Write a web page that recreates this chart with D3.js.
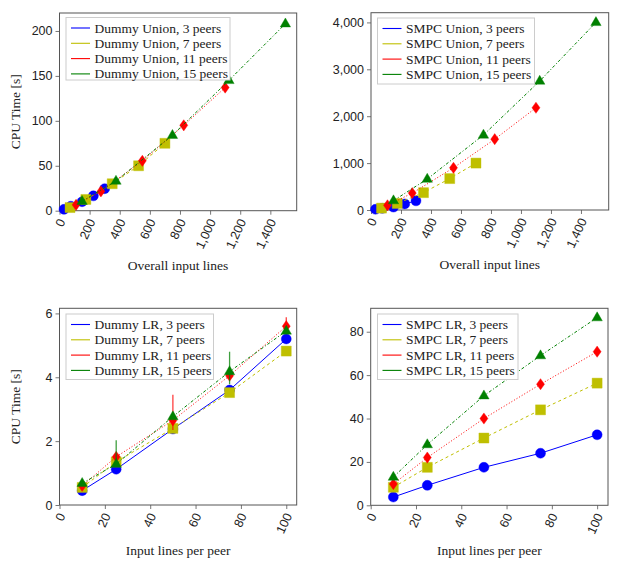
<!DOCTYPE html>
<html><head><meta charset="utf-8">
<script src="https://cdn.jsdelivr.net/npm/d3@7"></script>
<style>
html,body{margin:0;padding:0;background:#fff;}
svg{display:block;font-family:"Liberation Serif","Times New Roman",serif;}
</style></head>
<body><svg id="c" width="626" height="568"></svg>
<script>
// ---------- data ----------
const peerLabels = ["3 peers", "7 peers", "11 peers", "15 peers"];
const linesPerPeer = [10, 25, 50, 75, 100];
const overallX3 = [30, 75, 150, 225, 300];
const overallX7 = [70, 175, 350, 525, 700];
const overallX11 = [110, 275, 550, 825, 1100];
const overallX15 = [150, 375, 750, 1125, 1500];

const dummyUnion3 = [1.5, 5, 10, 16.5, 24.5];
const dummyUnion7 = [3.5, 12.5, 30, 50, 75];
const dummyUnion11 = [6.5, 21.5, 55.5, 95, 137];
const dummyUnion15 = [10.5, 33, 84, 145, 208];

const smpcUnion3 = [15, 35, 62, 130, 195];
const smpcUnion7 = [40, 140, 370, 670, 1000];
const smpcUnion11 = [100, 360, 900, 1510, 2180];
const smpcUnion15 = [200, 660, 1600, 2750, 4000];

const dummyLR3 = [0.45, 1.12, 2.38, 3.6, 5.2];
const dummyLR7 = [0.55, 1.35, 2.4, 3.52, 4.82];
const dummyLR11 = [0.6, 1.51, 2.65, 4.05, 5.6];
const dummyLR15 = [0.68, 1.28, 2.77, 4.18, 5.45];
// error bars (plus / minus) for dummy LR
const dummyLR11ErrPlus = [0.05, 0.05, 0.8, 0.1, 0.28];
const dummyLR11ErrMinus = [0.05, 0.05, 0.3, 0.1, 0.15];
const dummyLR15ErrPlus = [0.12, 0.75, 0.1, 0.62, 0.1];
const dummyLR15ErrMinus = [0.05, 0.05, 0.05, 0.4, 0.05];

const smpcLR3 = [3.8, 9.2, 17.5, 24, 32.5];
const smpcLR7 = [8.3, 17.5, 31, 44, 56.3];
const smpcLR11 = [9.8, 22, 40, 55.8, 70.8];
const smpcLR15 = [13, 28, 50.5, 69, 86.5];

const unionXTicks = [0, 200, 400, 600, 800, 1000, 1200, 1400];
const lrXTicks = [0, 20, 40, 60, 80, 100];
const dummyUnionYTicks = [0, 50, 100, 150, 200];
const smpcUnionYTicks = [0, 1000, 2000, 3000, 4000];
const dummyLRYTicks = [0, 2, 4, 6];
const smpcLRYTicks = [0, 20, 40, 60, 80];

// ---------- styles ----------
const colors = ["#0000ff", "#bfbf00", "#ff0000", "#008000"];
const dashes = [null, "3,3", "1,2", "3,2,1,2"];
const markers = ["circle", "square", "diamond", "triangle"];

const svg = d3.select("#c");
const fmt = d3.format(",");

function markerPath(type) {
  if (type === "circle") return d3.symbol(d3.symbolCircle, Math.PI * 5 * 5)();
  if (type === "square") return "M-5,-5L5,-5L5,5L-5,5Z";
  if (type === "diamond") return "M0,-5.6L4,0L0,5.6L-4,0Z";
  return "M0,-5.8L5.2,3.2L-5.2,3.2Z";
}

function panel(cfg) {
  const x = d3.scaleLinear().domain(cfg.xDomain).range(cfg.xRange);
  const y = d3.scaleLinear().domain(cfg.yDomain).range(cfg.yRange);
  const g = svg.append("g");
  const [x0, x1] = cfg.xRange, [y0, y1] = cfg.yRange;

  // x axis
  const xa = g.append("g").attr("transform", `translate(0,${y0})`)
    .call(d3.axisBottom(x).tickValues(cfg.xTicks).tickFormat(fmt).tickSize(4).tickSizeOuter(0));
  xa.select(".domain").remove();
  xa.selectAll(".tick line").attr("stroke", "#777");
  xa.selectAll(".tick text")
    .attr("font-size", 12.5).attr("fill", "#222")
    .attr("text-anchor", "end").attr("y", 0).attr("dy", 0)
    .attr("transform", "translate(2,9) rotate(-65)")
    .attr("dominant-baseline", "central");

  // y axis
  const ya = g.append("g").attr("transform", `translate(${x0},0)`)
    .call(d3.axisLeft(y).tickValues(cfg.yTicks).tickFormat(fmt).tickSize(4).tickSizeOuter(0));
  ya.select(".domain").remove();
  ya.selectAll(".tick line").attr("stroke", "#777");
  ya.selectAll(".tick text").attr("font-size", 12.5).attr("fill", "#222").attr("x", -7);

  // frame
  g.append("rect").attr("x", x0).attr("y", y1).attr("width", x1 - x0).attr("height", y0 - y1)
    .attr("fill", "none").attr("stroke", "#555").attr("stroke-width", 1);

  // series
  cfg.series.forEach((s, i) => {
    const pts = s.xs.map((xv, j) => [xv, s.ys[j]]);
    const sg = g.append("g");
    sg.append("path").datum(pts)
      .attr("d", d3.line().x(d => x(d[0])).y(d => y(d[1])))
      .attr("fill", "none").attr("stroke", colors[i]).attr("stroke-width", 1)
      .attr("stroke-dasharray", dashes[i]);
    if (s.errPlus) {
      pts.forEach((p, j) => {
        sg.append("line").attr("x1", x(p[0])).attr("x2", x(p[0]))
          .attr("y1", y(p[1] + s.errPlus[j])).attr("y2", y(p[1] - s.errMinus[j]))
          .attr("stroke", colors[i]).attr("stroke-width", 1.3).attr("opacity", 0.75);
      });
    }
    sg.selectAll("path.m").data(pts).enter().append("path").attr("class", "m")
      .attr("d", markerPath(markers[i]))
      .attr("transform", d => `translate(${x(d[0])},${y(d[1])})`)
      .attr("fill", colors[i]).attr("stroke", colors[i]).attr("stroke-width", 0.4);
  });

  // legend
  const L = cfg.legend;
  g.append("rect").attr("x", L.x).attr("y", L.y).attr("width", L.w).attr("height", L.h)
    .attr("fill", "#fff").attr("stroke", "#ccc").attr("stroke-width", 1);
  cfg.series.forEach((s, i) => {
    const yy = L.y + 10.5 + i * 15.3;
    g.append("line").attr("x1", L.x + 5).attr("x2", L.x + 24).attr("y1", yy).attr("y2", yy)
      .attr("stroke", colors[i]).attr("stroke-width", 1.1);
    g.append("text").attr("x", L.x + 28.5).attr("y", yy + 4.5)
      .attr("font-size", 13.5).attr("fill", "#222").text(cfg.name + ", " + peerLabels[i]);
  });

  // labels
  g.append("text").attr("x", (x0 + x1) / 2).attr("y", y0 + cfg.xLabelOffset).attr("text-anchor", "middle")
    .attr("font-size", 13.5).attr("fill", "#222").text(cfg.xLabel);
  if (cfg.yLabel) {
    g.append("text").attr("transform", `translate(20,${(y0 + y1) / 2}) rotate(-90)`)
      .attr("text-anchor", "middle").attr("font-size", 13.5).attr("fill", "#222").text(cfg.yLabel);
  }
}

panel({
  name: "Dummy Union", xLabel: "Overall input lines", yLabel: "CPU Time [s]", xLabelOffset: 59,
  xDomain: [0, 1575], xRange: [59.5, 296.7], yDomain: [0, 220], yRange: [210.7, 13],
  xTicks: unionXTicks, yTicks: dummyUnionYTicks,
  legend: { x: 66, y: 17.5, w: 164, h: 62.5 },
  series: [
    { xs: overallX3, ys: dummyUnion3 }, { xs: overallX7, ys: dummyUnion7 },
    { xs: overallX11, ys: dummyUnion11 }, { xs: overallX15, ys: dummyUnion15 }]
});
panel({
  name: "SMPC Union", xLabel: "Overall input lines", yLabel: null, xLabelOffset: 59,
  xDomain: [0, 1585], xRange: [371, 608.7], yDomain: [0, 4207], yRange: [210, 12.7],
  xTicks: unionXTicks, yTicks: smpcUnionYTicks,
  legend: { x: 377.5, y: 18, w: 157, h: 66 },
  series: [
    { xs: overallX3, ys: smpcUnion3 }, { xs: overallX7, ys: smpcUnion7 },
    { xs: overallX11, ys: smpcUnion11 }, { xs: overallX15, ys: smpcUnion15 }]
});
panel({
  name: "Dummy LR", xLabel: "Input lines per peer", yLabel: "CPU Time [s]", xLabelOffset: 50,
  xDomain: [0, 104.6], xRange: [59.5, 296.7], yDomain: [0, 6.16], yRange: [505, 308.3],
  xTicks: lrXTicks, yTicks: dummyLRYTicks,
  legend: { x: 66, y: 314, w: 147.5, h: 65.5 },
  series: [
    { xs: linesPerPeer, ys: dummyLR3 }, { xs: linesPerPeer, ys: dummyLR7 },
    { xs: linesPerPeer, ys: dummyLR11, errPlus: dummyLR11ErrPlus, errMinus: dummyLR11ErrMinus },
    { xs: linesPerPeer, ys: dummyLR15, errPlus: dummyLR15ErrPlus, errMinus: dummyLR15ErrMinus }]
});
panel({
  name: "SMPC LR", xLabel: "Input lines per peer", yLabel: null, xLabelOffset: 50,
  xDomain: [0, 104.8], xRange: [370.7, 608], yDomain: [0, 90.8], yRange: [505.3, 308.3],
  xTicks: lrXTicks, yTicks: smpcLRYTicks,
  legend: { x: 377.5, y: 314, w: 140.5, h: 65.5 },
  series: [
    { xs: linesPerPeer, ys: smpcLR3 }, { xs: linesPerPeer, ys: smpcLR7 },
    { xs: linesPerPeer, ys: smpcLR11 }, { xs: linesPerPeer, ys: smpcLR15 }]
});
</script></body></html>
